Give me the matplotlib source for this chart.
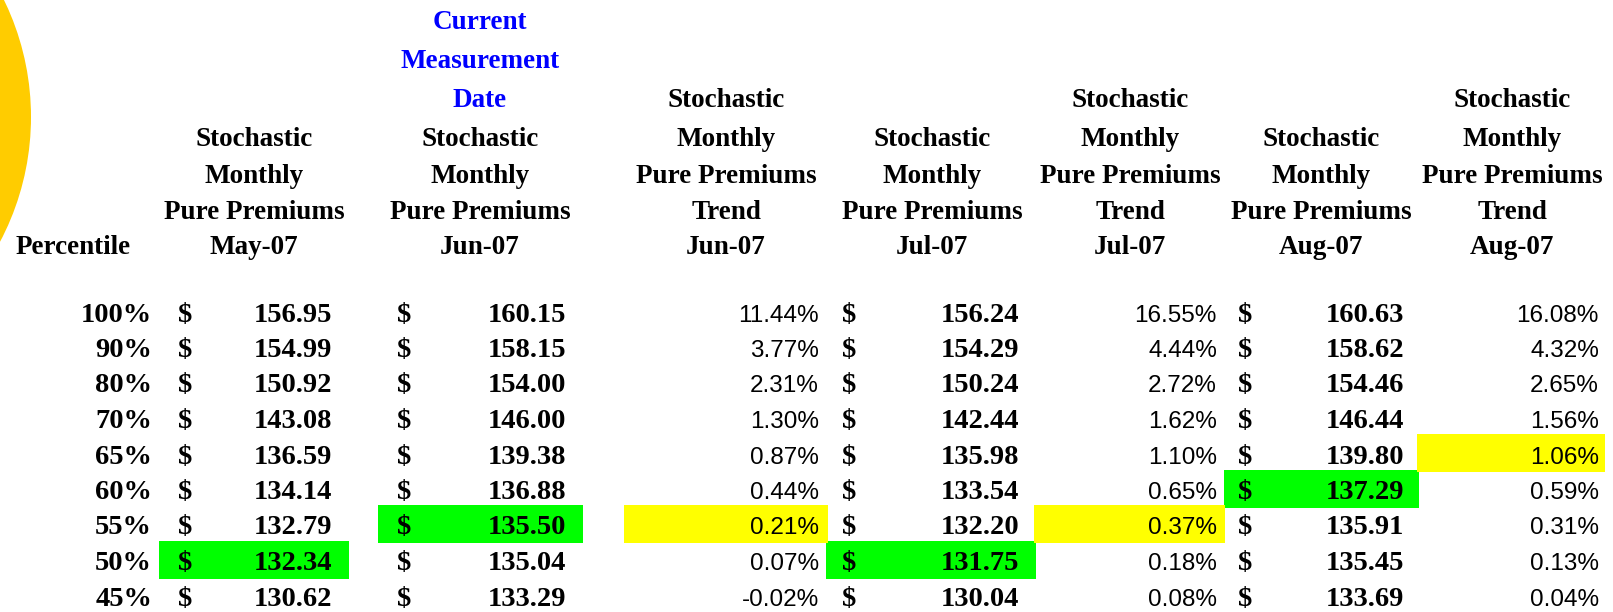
import matplotlib.pyplot as plt
from matplotlib.patches import Circle, Rectangle

percentiles = ["100%", "90%", "80%", "70%", "65%", "60%", "55%", "50%", "45%"]

pp_may07 = [156.95, 154.99, 150.92, 143.08, 136.59, 134.14, 132.79, 132.34, 130.62]
pp_jun07 = [160.15, 158.15, 154.00, 146.00, 139.38, 136.88, 135.50, 135.04, 133.29]
trend_jun07 = [11.44, 3.77, 2.31, 1.30, 0.87, 0.44, 0.21, 0.07, -0.02]
pp_jul07 = [156.24, 154.29, 150.24, 142.44, 135.98, 133.54, 132.20, 131.75, 130.04]
trend_jul07 = [16.55, 4.44, 2.72, 1.62, 1.10, 0.65, 0.37, 0.18, 0.08]
pp_aug07 = [160.63, 158.62, 154.46, 146.44, 139.80, 137.29, 135.91, 135.45, 133.69]
trend_aug07 = [16.08, 4.32, 2.65, 1.56, 1.06, 0.59, 0.31, 0.13, 0.04]

# highlighted percentile per column
green_cells = {"May-07": "50%", "Jun-07": "55%", "Jul-07": "50%", "Aug-07": "60%"}
yellow_cells = {"Jun-07": "55%", "Jul-07": "55%", "Aug-07": "65%"}

SERIF = "Liberation Serif"
SANS = "Liberation Sans"
GREEN = "#00FF00"
YELLOW = "#FFFF00"

fig = plt.figure(figsize=(16.13, 6.12), dpi=100)
ax = fig.add_axes([0, 0, 1, 1])
ax.set_xlim(0, 1613)
ax.set_ylim(612, 0)
ax.axis("off")

# yellow decoration on the left edge
ax.add_patch(Circle((-236, 117), 267, color="#FFCC00", lw=0))

# header lines (centre y of each text line)
hy = [19.5, 58.6, 97.7, 136.8, 173.9, 209.9, 244.8]


def header(x, lines, color="black"):
    start = len(hy) - len(lines)
    for i, t in enumerate(lines):
        ax.text(x, hy[start + i] + 9.5, t, ha="center", va="baseline",
                fontsize=19.5, fontweight="bold", family=SERIF, color=color)


ax.text(73, hy[-1] + 9.5, "Percentile", ha="center", va="baseline",
        fontsize=19.5, fontweight="bold", family=SERIF)

pp_cols = [("May-07", pp_may07, 254, 178, 332, (159, 349)),
           ("Jun-07", pp_jun07, 480, 397, 566, (378, 583)),
           ("Jul-07", pp_jul07, 932, 842, 1019, (826, 1036)),
           ("Aug-07", pp_aug07, 1321, 1238, 1404, (1224, 1419))]
trend_cols = [("Jun-07", trend_jun07, 726, 819, (624, 828)),
              ("Jul-07", trend_jul07, 1130, 1217, (1034, 1225)),
              ("Aug-07", trend_aug07, 1512, 1599, (1417, 1605))]

for month, vals, cx, dx, vx, span in pp_cols:
    header(cx, ["Stochastic", "Monthly", "Pure Premiums", month])
for month, vals, cx, rx, span in trend_cols:
    header(cx, ["Stochastic", "Monthly", "Pure Premiums", "Trend", month])
for i, t in enumerate(["Current", "Measurement", "Date"]):
    ax.text(480, hy[i] + 9.5, t, ha="center", va="baseline",
            fontsize=19.5, fontweight="bold", family=SERIF, color="#0000FF")

row_y = [313 + 35.5 * i for i in range(len(percentiles))]

# highlight boxes
for month, vals, cx, dx, vx, span in pp_cols:
    if month in green_cells:
        r = percentiles.index(green_cells[month])
        ax.add_patch(Rectangle((span[0], row_y[r] - 21), span[1] - span[0], 38,
                               color=GREEN, lw=0))
for month, vals, cx, rx, span in trend_cols:
    if month in yellow_cells:
        r = percentiles.index(yellow_cells[month])
        ax.add_patch(Rectangle((span[0], row_y[r] - 21), span[1] - span[0], 38,
                               color=YELLOW, lw=0))

for r, p in enumerate(percentiles):
    y = row_y[r] + 8.5
    ax.text(152, y, p, ha="right", va="baseline", fontsize=20.5,
            fontweight="bold", family=SERIF)
    for month, vals, cx, dx, vx, span in pp_cols:
        ax.text(dx, y, "$", ha="left", va="baseline", fontsize=20.5,
                fontweight="bold", family=SERIF)
        ax.text(vx, y, f"{vals[r]:.2f}", ha="right", va="baseline",
                fontsize=20.5, fontweight="bold", family=SERIF)
    for month, vals, cx, rx, span in trend_cols:
        ax.text(rx, y, f"{vals[r]:.2f}%", ha="right", va="baseline",
                fontsize=17.5, family=SANS)

fig.savefig("out.png", dpi=100)
